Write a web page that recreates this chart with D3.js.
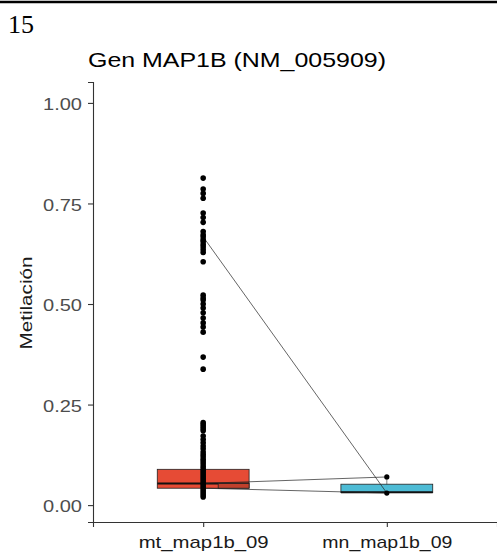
<!DOCTYPE html>
<html>
<head>
<meta charset="utf-8">
<script src="https://cdn.jsdelivr.net/npm/d3@7"></script>
<style>
  body { margin: 0; background: #fff; }
  svg { display: block; }
</style>
</head>
<body>
<svg width="497" height="560"></svg>
<script>
"use strict";

const groups = ["mt_map1b_09", "mn_map1b_09"];
const fills = ["#E64B35", "#4DBBD5"];
// box stats per group: [q1, median, q3, whiskerLow, whiskerHigh]
const boxStats = [[0.042, 0.054, 0.089, 0.02, 0.16], [0.031, 0.032, 0.052, 0.03, 0.07]];
const mtPoints = [0.813, 0.786, 0.775, 0.763, 0.726, 0.715, 0.703, 0.68, 0.672, 0.667, 0.66, 0.655, 0.648, 0.642,
    0.635, 0.628, 0.605, 0.522, 0.515, 0.51, 0.5, 0.49, 0.478, 0.465, 0.453, 0.443, 0.43, 0.368, 0.338,
    0.205, 0.2, 0.195, 0.19, 0.185, 0.172, 0.163, 0.155, 0.147, 0.14, 0.132, 0.126, 0.12, 0.114, 0.108,
    0.102, 0.096, 0.09, 0.085, 0.08, 0.075, 0.07, 0.065, 0.06, 0.055, 0.05, 0.045, 0.04, 0.035, 0.03,
    0.025, 0.02];
const mnPoints = [0.07, 0.03];
// paired lines: [mt value, mn value]
const pairs = [[0.667, 0.03], [0.054, 0.07], [0.042, 0.03]];
const yTicks = [0, 0.25, 0.5, 0.75, 1];

const svg = d3.select("svg");
const mLeft = 93, mRight = 497, mTop = 82, mBottom = 522;
const sans = "'Liberation Sans', Arial, sans-serif";

const x = d3.scalePoint().domain(groups).range([mLeft, mRight]).padding(0.6);
const y = d3.scaleLinear().domain([-0.042, 1.052]).range([mBottom, mTop]);
const boxW = x.step() * 0.5;

// page header bits
svg.append("line").attr("x1", 0).attr("x2", 497).attr("y1", 2).attr("y2", 2)
    .attr("stroke", "#000").attr("stroke-width", 2.5);
svg.append("text").attr("x", 8).attr("y", 33)
    .style("font-family", "'Liberation Serif', 'Times New Roman', serif")
    .style("font-size", "26px").text("15");

svg.append("text").attr("x", 88).attr("y", 67)
    .style("font-family", sans)
    .style("font-size", "21px").attr("fill", "#000")
    .attr("textLength", 298).attr("lengthAdjust", "spacingAndGlyphs")
    .text("Gen MAP1B (NM_005909)");

// boxes
groups.forEach((g, i) => {
    const s = boxStats[i];
    const cx = x(g);
    svg.append("line").attr("x1", cx).attr("x2", cx)
        .attr("y1", y(s[4])).attr("y2", y(s[3]))
        .attr("stroke", "#333").attr("stroke-width", 0.6);
    svg.append("rect")
        .attr("x", cx - boxW / 2).attr("width", boxW)
        .attr("y", y(s[2])).attr("height", y(s[0]) - y(s[2]))
        .attr("fill", fills[i]).attr("stroke", "#222").attr("stroke-width", 0.8);
    svg.append("line").attr("x1", cx - boxW / 2).attr("x2", cx + boxW / 2)
        .attr("y1", y(s[1])).attr("y2", y(s[1]))
        .attr("stroke", "#111").attr("stroke-width", 2);
});

// darker strip where paired lines cross the mt box
svg.append("rect")
    .attr("x", x(groups[0]) + 15).attr("width", boxW / 2 - 15)
    .attr("y", y(boxStats[0][1])).attr("height", y(boxStats[0][0]) - y(boxStats[0][1]))
    .attr("fill", "#C0402C").attr("stroke", "#222").attr("stroke-width", 0.8);

// paired lines
svg.selectAll(".pair")
    .data(pairs)
    .enter().append("line")
    .attr("class", "pair")
    .attr("x1", x(groups[0])).attr("y1", d => y(d[0]))
    .attr("x2", x(groups[1])).attr("y2", d => y(d[1]))
    .attr("stroke", "#222").attr("stroke-width", 0.7);

// points
svg.selectAll(".mt")
    .data(mtPoints)
    .enter().append("circle")
    .attr("class", "mt")
    .attr("cx", x(groups[0])).attr("cy", d => y(d)).attr("r", 2.8)
    .attr("fill", "#000");
svg.selectAll(".mn")
    .data(mnPoints)
    .enter().append("circle")
    .attr("class", "mn")
    .attr("cx", x(groups[1])).attr("cy", d => y(d)).attr("r", 2.6)
    .attr("fill", "#000");

// axes
const yAxis = svg.append("g").attr("transform", `translate(${mLeft},0)`)
    .call(d3.axisLeft(y).tickValues(yTicks).tickFormat(d3.format(".2f")).tickSizeOuter(0).tickSize(5).tickPadding(6));
const xAxis = svg.append("g").attr("transform", `translate(0,${mBottom})`)
    .call(d3.axisBottom(x).tickSizeOuter(0).tickSize(5).tickPadding(5));

[yAxis, xAxis].forEach(a => {
    a.select(".domain").attr("stroke", "#333").attr("stroke-width", 1.1);
    a.selectAll(".tick line").attr("stroke", "#333").attr("stroke-width", 1.1);
    a.selectAll("text").style("font-family", sans).attr("lengthAdjust", "spacingAndGlyphs");
});
yAxis.selectAll("text").style("font-size", "17px").attr("fill", "#4d4d4d")
    .attr("dy", "0.4em").attr("textLength", 39);
xAxis.selectAll("text").style("font-size", "17px").attr("fill", "#1a1a1a")
    .attr("dy", "0.95em").attr("textLength", 130);

svg.append("text")
    .attr("transform", `translate(32,303) rotate(-90)`)
    .attr("text-anchor", "middle")
    .style("font-family", sans)
    .style("font-size", "17px").attr("fill", "#1a1a1a")
    .attr("textLength", 93).attr("lengthAdjust", "spacingAndGlyphs")
    .text("Metilación");
</script>
</body>
</html>
